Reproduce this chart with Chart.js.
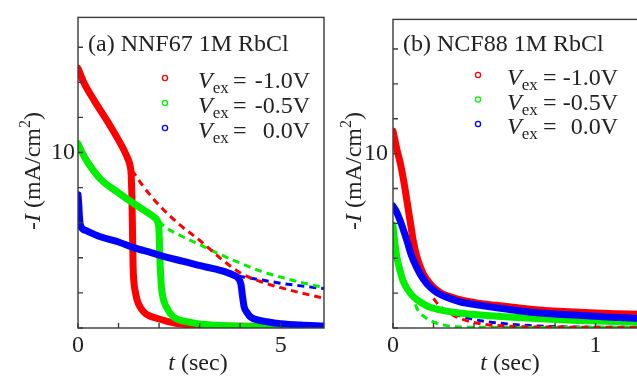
<!DOCTYPE html>
<html>
<head>
<meta charset="utf-8">
<title>Current transients</title>
<script src="https://cdn.jsdelivr.net/npm/chart.js@4.4.1/dist/chart.umd.min.js"></script>
<style>
  html, body { margin: 0; padding: 0; background: #fff; overflow: hidden; }
  .wrap { position: relative; width: 637px; height: 378px; overflow: hidden; }
  #chartA { position: absolute; left: 0; top: 0; }
  #chartB { position: absolute; left: 330px; top: 0; }
</style>
</head>
<body>
<div class="wrap">
  <canvas id="chartA" width="330" height="378"></canvas>
  <canvas id="chartB" width="320" height="378"></canvas>
</div>
<script>
// Legend entries (shared by both panels)
const seriesLabels = ["-1.0V", "-0.5V", "0.0V"];
const seriesColors = ["#ff0000", "#00f000", "#0000ff"];

// Panel (a) NNF67 - measured current, t in sec, -I in mA/cm2
const aRedT = [0, 0.14, 0.39, 0.8, 1.12, 1.22, 1.28, 1.31, 1.33, 1.345, 1.36, 1.38, 1.42, 1.46, 1.53, 1.62, 1.75, 1.95, 2.2, 2.44, 3.0, 4.0, 5.0, 6.07];
const aRedI = [14.8, 14.0, 13.0, 11.5, 10.2, 9.7, 9.3, 8.8, 7.5, 5.5, 3.5, 2.6, 2.0, 1.58, 1.2, 0.92, 0.7, 0.55, 0.38, 0.26, 0.13, 0.1, 0.09, 0.08];
const aGreenT = [0, 0.1, 0.25, 0.55, 1.0, 1.37, 1.7, 1.88, 1.97, 2.0, 2.02, 2.04, 2.06, 2.1, 2.18, 2.35, 2.68, 3.27, 4.0, 5.0, 6.07];
const aGreenI = [10.5, 10.0, 9.4, 8.5, 7.7, 7.1, 6.6, 6.3, 6.0, 5.5, 4.0, 3.0, 2.3, 1.7, 1.2, 0.64, 0.36, 0.17, 0.1, 0.06, 0.05];
const aBlueT = [0, 0.02, 0.04, 0.07, 0.2, 0.55, 1.0, 1.37, 1.8, 2.2, 2.6, 3.02, 3.4, 3.67, 3.85, 3.95, 4.02, 4.06, 4.1, 4.18, 4.25, 4.45, 4.66, 5.0, 5.48, 6.07];
const aBlueI = [7.6, 7.0, 6.2, 5.8, 5.55, 5.2, 4.9, 4.58, 4.3, 4.02, 3.8, 3.55, 3.35, 3.17, 3.0, 2.85, 2.5, 1.8, 1.2, 0.85, 0.64, 0.45, 0.36, 0.25, 0.17, 0.12];
// Panel (a) fits (dashed)
const aRedFitT = [1.33, 1.6, 2.0, 2.5, 3.0, 3.5, 4.0, 4.5, 5.0, 5.5, 6.07];
const aRedFitI = [9.0, 8.1, 7.0, 5.9, 5.0, 4.0, 3.15, 2.65, 2.3, 2.0, 1.7];
const aGreenFitT = [2.0, 2.12, 2.5, 3.0, 3.5, 4.0, 4.5, 5.0, 5.5, 6.07];
const aGreenFitI = [6.1, 5.8, 5.3, 4.75, 4.2, 3.7, 3.25, 2.9, 2.6, 2.3];
const aBlueFitT = [3.95, 4.5, 5.0, 5.5, 6.07];
const aBlueFitI = [2.95, 2.75, 2.55, 2.4, 2.25];

// Panel (b) NCF88
const bRedT = [0, 0.02, 0.037, 0.055, 0.07, 0.085, 0.1, 0.12, 0.15, 0.19, 0.23, 0.28, 0.345, 0.42, 0.51, 0.62, 0.75, 0.87, 1.0, 1.1, 1.26];
const bRedI = [11.3, 10.2, 9.4, 8.3, 7.2, 6.1, 5.0, 4.0, 3.1, 2.45, 2.05, 1.8, 1.58, 1.42, 1.3, 1.15, 1.01, 0.93, 0.86, 0.82, 0.77];
const bGreenT = [0, 0.005, 0.02, 0.037, 0.05, 0.07, 0.1, 0.14, 0.18, 0.25, 0.345, 0.46, 0.59, 0.78, 0.915, 1.05, 1.26];
const bGreenI = [5.9, 5.3, 4.0, 3.2, 2.7, 2.25, 1.8, 1.45, 1.2, 1.0, 0.83, 0.72, 0.62, 0.5, 0.43, 0.38, 0.32];
const bBlueT = [0, 0.02, 0.037, 0.055, 0.07, 0.09, 0.118, 0.15, 0.184, 0.22, 0.265, 0.33, 0.43, 0.55, 0.67, 0.8, 0.915, 1.05, 1.26];
const bBlueI = [7.0, 6.6, 6.1, 5.5, 4.96, 4.2, 3.45, 2.8, 2.33, 2.0, 1.76, 1.5, 1.3, 1.1, 0.92, 0.8, 0.73, 0.63, 0.53];
const bRedFitT = [0.2, 0.22, 0.27, 0.345, 0.425, 0.555, 0.7, 0.9, 1.26];
const bRedFitI = [1.7, 1.39, 0.92, 0.49, 0.26, 0.11, 0.06, 0.05, 0.05];
const bGreenFitT = [0.11, 0.124, 0.16, 0.21, 0.26, 0.31, 0.45, 0.7, 1.26];
const bGreenFitI = [1.35, 1.0, 0.6, 0.3, 0.15, 0.07, 0.04, 0.03, 0.03];
const bBlueFitT = [0.3, 0.375, 0.47, 0.635, 0.75, 0.88, 1.0, 1.26];
const bBlueFitI = [0.8, 0.55, 0.35, 0.17, 0.1, 0.06, 0.05, 0.05];

const serif = '"Liberation Serif", "Times New Roman", serif';
const textColor = "#222";
const axisColor = "#3a3a3a";

function toXY(t, v) {
  return t.map((x, k) => ({ x: x, y: v[k] }));
}

function solid(color, t, v, order) {
  return {
    data: toXY(t, v),
    borderColor: color,
    backgroundColor: color,
    borderWidth: 7,
    borderJoinStyle: "round",
    borderCapStyle: "round",
    cubicInterpolationMode: "monotone",
    pointRadius: 0,
    order: order,
  };
}

function dashed(color, t, v) {
  return {
    data: toXY(t, v),
    borderColor: color,
    backgroundColor: color,
    borderWidth: 3,
    borderDash: [7, 5],
    cubicInterpolationMode: "monotone",
    pointRadius: 0,
    order: 5,
  };
}

// draw a run of text pieces (mixed italic / sub / superscript), returns width
function runWidth(ctx, runs) {
  let w = 0;
  runs.forEach(r => { ctx.font = r.font; w += ctx.measureText(r.text).width; });
  return w;
}
function drawRuns(ctx, runs, x, y) {
  runs.forEach(r => {
    ctx.font = r.font;
    ctx.fillText(r.text, x, y + (r.dy || 0));
    x += ctx.measureText(r.text).width;
  });
}

// Frame, inward ticks, panel title, legend and axis titles
const panelDeco = {
  id: "panelDeco",
  afterDatasetsDraw(chart, args, o) {
    const { ctx, chartArea: a, scales: { x, y } } = chart;
    ctx.save();
    ctx.strokeStyle = axisColor;
    ctx.lineWidth = 1.4;
    ctx.strokeRect(a.left, a.top, a.right - a.left, a.bottom - a.top);

    ctx.beginPath();
    x.ticks.forEach(t => {
      const r = t.value / o.xStep;
      if (Math.abs(r - Math.round(r)) > 1e-6) return;
      const px = x.getPixelForValue(t.value);
      ctx.moveTo(px, a.bottom);
      ctx.lineTo(px, a.bottom - 5);
    });
    y.ticks.forEach(t => {
      const r = t.value / o.yStep;
      if (Math.abs(r - Math.round(r)) > 1e-6) return;
      const py = y.getPixelForValue(t.value);
      ctx.moveTo(a.left, py);
      ctx.lineTo(a.left + 5, py);
    });
    ctx.stroke();

    ctx.fillStyle = textColor;
    ctx.textBaseline = "alphabetic";
    ctx.textAlign = "left";
    ctx.font = "24px " + serif;
    ctx.fillText(o.title, a.left + 10, 51);

    // legend
    seriesLabels.forEach((lab, k) => {
      const my = o.legTop + k * o.legStep;
      ctx.beginPath();
      ctx.strokeStyle = seriesColors[k];
      ctx.lineWidth = 1.3;
      ctx.arc(a.left + o.legMark, my, 2.6, 0, Math.PI * 2);
      ctx.stroke();
      const base = my + 10;
      ctx.fillStyle = textColor;
      ctx.textAlign = "left";
      drawRuns(ctx, [
        { text: "V", font: "italic 24px " + serif },
        { text: "ex", font: "17px " + serif, dy: 5 },
      ], a.left + o.vX, base);
      ctx.font = "24px " + serif;
      ctx.fillText("=", a.left + o.eqX, base);
      ctx.textAlign = "right";
      ctx.fillText(lab, a.left + o.valRight, base);
    });

    // x axis title
    ctx.textAlign = "left";
    const xr = [
      { text: "t", font: "italic 24px " + serif },
      { text: " (sec)", font: "24px " + serif },
    ];
    drawRuns(ctx, xr, a.left + o.xTitleX - runWidth(ctx, xr) / 2, 370);

    // y axis title, rotated
    const yr = [
      { text: "-", font: "24px " + serif },
      { text: "I", font: "italic 24px " + serif },
      { text: " (mA/cm", font: "24px " + serif },
      { text: "2", font: "16px " + serif, dy: -10 },
      { text: ")", font: "24px " + serif },
    ];
    ctx.translate(a.left + o.yTitleX, 171);
    ctx.rotate(-Math.PI / 2);
    drawRuns(ctx, yr, -runWidth(ctx, yr) / 2, 0);
    ctx.restore();
  },
};

function makePanel(id, datasets, xMax, xStep, xLabels, yAxisW, deco) {
  return new Chart(document.getElementById(id), {
    type: "line",
    data: { datasets: datasets },
    plugins: [panelDeco],
    options: {
      responsive: false,
      animation: false,
      layout: { padding: { top: 14, right: deco.padRight, left: 0, bottom: 0 } },
      plugins: {
        legend: { display: false },
        tooltip: { enabled: false },
        panelDeco: Object.assign({ xStep: xStep, yStep: 2 }, deco),
      },
      scales: {
        x: {
          type: "linear",
          min: 0,
          max: xMax,
          grid: { display: false, drawTicks: false },
          border: { display: false },
          afterFit: s => { s.height = 50; },
          ticks: {
            stepSize: xStep,
            autoSkip: false,
            maxRotation: 0,
            padding: 3,
            color: textColor,
            font: { family: serif, size: 24 },
            callback: v => {
              const hit = xLabels.find(l => Math.abs(l - v) < 1e-6);
              return hit === undefined ? "" : String(hit);
            },
          },
        },
        y: {
          min: 0,
          max: 17.7,
          grid: { display: false, drawTicks: false },
          border: { display: false },
          afterFit: s => { s.width = yAxisW; },
          ticks: {
            stepSize: 2,
            autoSkip: false,
            padding: deco.yPad,
            color: textColor,
            font: { family: serif, size: 24 },
            callback: v => (v === 10 ? "10" : ""),
          },
        },
      },
    },
  });
}

// Panel (a)
makePanel("chartA", [
  solid(seriesColors[2], aBlueT, aBlueI, 0),
  solid(seriesColors[1], aGreenT, aGreenI, 1),
  solid(seriesColors[0], aRedT, aRedI, 2),
  dashed(seriesColors[0], aRedFitT, aRedFitI),
  dashed(seriesColors[1], aGreenFitT, aGreenFitI),
  dashed(seriesColors[2], aBlueFitT, aBlueFitI),
], 6.07, 1, [0, 5], 78, {
  title: "(a) NNF67 1M RbCl",
  padRight: 6, yPad: 3,
  legMark: 87, legTop: 78, legStep: 25,
  vX: 120, eqX: 155, valRight: 232,
  xTitleX: 120, yTitleX: -38,
});

// Panel (b)
makePanel("chartB", [
  solid(seriesColors[2], bBlueT, bBlueI, 0),
  solid(seriesColors[1], bGreenT, bGreenI, 1),
  solid(seriesColors[0], bRedT, bRedI, 2),
  dashed(seriesColors[0], bRedFitT, bRedFitI),
  dashed(seriesColors[1], bGreenFitT, bGreenFitI),
  dashed(seriesColors[2], bBlueFitT, bBlueFitI),
], 1.254, 0.2, [0, 1], 63, {
  title: "(b) NCF88 1M RbCl",
  padRight: 0, yPad: 5,
  legMark: 85, legTop: 75, legStep: 24.5,
  vX: 114, eqX: 150, valRight: 225,
  xTitleX: 117, yTitleX: -32,
});
</script>
</body>
</html>
